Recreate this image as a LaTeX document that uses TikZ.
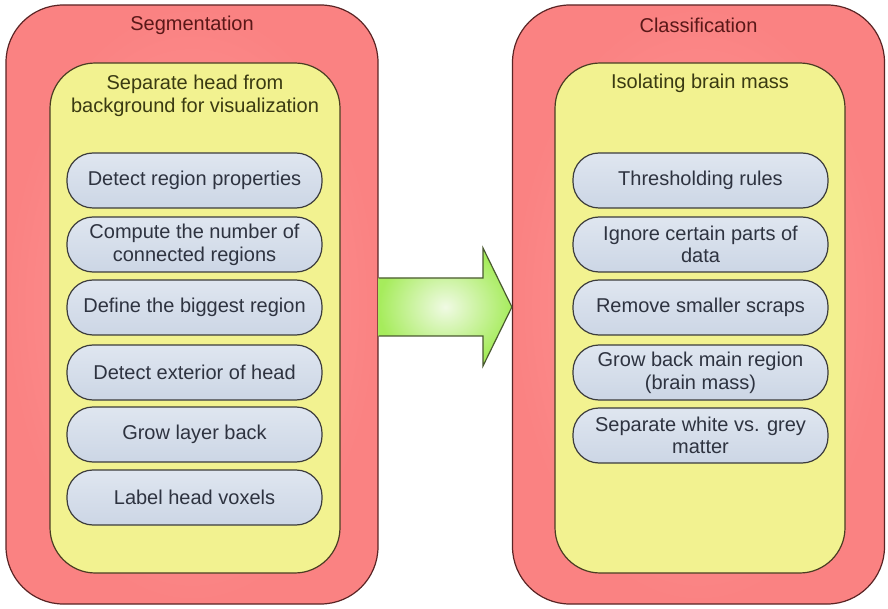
\documentclass[tikz,border=0pt]{standalone}
\usepackage{fontspec}
\setmainfont{Liberation Sans}
\usetikzlibrary{positioning}
\definecolor{stageline}{HTML}{5A2424}
\definecolor{stagein}{HTML}{FF9A9A}
\definecolor{stageout}{HTML}{FA8282}
\definecolor{taskfill}{HTML}{F2F290}
\definecolor{taskline}{HTML}{4A3C22}
\definecolor{pilltop}{HTML}{DFE6F0}
\definecolor{pillbot}{HTML}{CCD6E5}
\definecolor{pillline}{HTML}{3C3C3C}
\definecolor{stagetext}{HTML}{5A1818}
\definecolor{tasktext}{HTML}{3A3A12}
\definecolor{pilltext}{HTML}{2E3340}
\definecolor{arrowin}{HTML}{F0FAE4}
\definecolor{arrowout}{HTML}{A6EC5C}
\definecolor{arrowline}{HTML}{4A5A30}
\tikzset{
  stagebox/.style={draw=stageline, line width=0.9pt, rounded corners=43pt,
    inner color=stagein, outer color=stageout,
    minimum width=279pt, minimum height=449.25pt},
  taskbox/.style={draw=taskline, line width=0.9pt, rounded corners=34pt,
    fill=taskfill, minimum width=217.5pt, minimum height=382.5pt},
  pill/.style={draw=pillline, line width=0.9pt, rounded corners=19.5pt,
    top color=pilltop, bottom color=pillbot,
    minimum width=191.25pt, minimum height=41.25pt, align=center,
    text=pilltext, font=\fontsize{15}{17}\selectfont},
  stagetitle/.style={text=stagetext, font=\fontsize{15}{17}\selectfont},
  tasktitle/.style={text=tasktext, align=center, font=\fontsize{15}{17}\selectfont},
}
\begin{document}
\begin{tikzpicture}[x=0.75pt,y=-0.75pt]
\useasboundingbox (0,0) rectangle (888,609);
\fill[white] (0,0) rectangle (888,609);

% two stage containers
\node[stagebox] (seg) at (192,304.5) {};
\node[stagebox] (cls) at (698.5,304.5) {};
\node[stagetitle] (segT) at (192,25) {Segmentation};
\node[stagetitle] (clsT) at (698.5,25) {Classification};

% inner task panels
\node[taskbox] (segI) at (195,318) {};
\node[taskbox] (clsI) at (700,318) {};
\node[tasktitle] (segIT) at (195,96) {Separate head from\\background for visualization};
\node[tasktitle] (clsIT) at (700,83) {Isolating brain mass};

% segmentation steps
\node[pill] (s1) at (194.5,180.5) {Detect region properties};
\node[pill] (s2) at (194.5,244.5) {Compute the number of\\connected regions};
\node[pill] (s3) at (194.5,307.5) {Define the biggest region};
\node[pill] (s4) at (194.5,372.5) {Detect exterior of head};
\node[pill] (s5) at (194.5,434.5) {Grow layer back};
\node[pill] (s6) at (194.5,497.5) {Label head voxels};

% classification steps
\node[pill] (c1) at (700.5,180.5) {Thresholding rules};
\node[pill] (c2) at (700.5,244.5) {Ignore certain parts of\\data};
\node[pill] (c3) at (700.5,307.5) {Remove smaller scraps};
\node[pill] (c4) at (700.5,372.5) {Grow back main region\\(brain mass)};
\node[pill] (c5) at (700.5,435.5) {Separate white vs. grey\\matter};

% block arrow from segmentation to classification
\coordinate (aS) at (seg.east);
\coordinate (aT) at (cls.west);
\shade[inner color=arrowin, outer color=arrowout]
  (aS |- 0,278) -- (483,278) -- (483,248) -- (aT |- 0,307)
  -- (483,366) -- (483,336) -- (aS |- 0,336) -- cycle;
\draw[arrowline, line width=0.9pt, line join=miter]
  (aS |- 0,278) -- (483,278) -- (483,248) -- (aT |- 0,307)
  -- (483,366) -- (483,336) -- (aS |- 0,336);
\end{tikzpicture}
\end{document}
